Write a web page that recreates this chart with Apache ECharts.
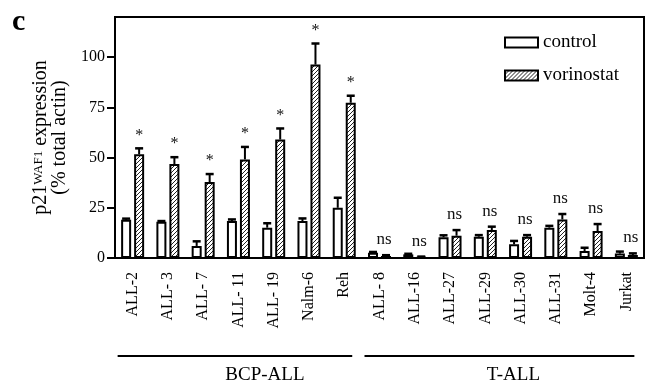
<!DOCTYPE html>
<html>
<head>
<meta charset="utf-8">
<script src="https://cdn.jsdelivr.net/npm/echarts@6/dist/echarts.min.js"></script>
<style>
html,body{margin:0;padding:0;background:#fff;}
#chart{width:649px;height:386px;}
</style>
</head>
<body>
<div id="chart"></div>
<script>
var categories = ['ALL-2','ALL- 3','ALL- 7','ALL- 11','ALL- 19','Nalm-6','Reh','ALL- 8','ALL-16','ALL-27','ALL-29','ALL-30','ALL-31','Molt-4','Jurkat'];
var controlValues = [19, 18, 6, 18.4, 15.1, 18.4, 25, 2.6, 1.8, 10.3, 10.6, 6.8, 15.1, 3.5, 2.2];
var controlErrors = [0.6, 0.4, 2.3, 0.8, 2.2, 1.3, 5, 0.4, 0.3, 1, 0.8, 1.7, 0.9, 1.6, 1];
var vorinostatValues = [51.7, 46.8, 37.8, 49.1, 59, 96.3, 77.3, 1, 0.5, 11.1, 13.9, 10.6, 19.2, 13.4, 1.5];
var vorinostatErrors = [2.9, 3.4, 4, 6.2, 5.5, 10.5, 3.5, 0.4, 0.2, 2.8, 1.7, 0.8, 2.7, 3.5, 0.8];
var significance = ['*','*','*','*','*','*','*','ns','ns','ns','ns','ns','ns','ns','ns'];
var yTicks = [0, 25, 50, 75, 100];
var groups = [
  {name: 'BCP-ALL', from: 0, to: 6},
  {name: 'T-ALL', from: 7, to: 14}
];

var FONT = '"Liberation Serif", "Times New Roman", serif';

function makeHatch() {
  var c = document.createElement('canvas');
  c.width = 4; c.height = 4;
  var ctx = c.getContext('2d');
  ctx.fillStyle = '#fff';
  ctx.fillRect(0, 0, 4, 4);
  ctx.strokeStyle = '#222';
  ctx.lineWidth = 1;
  ctx.beginPath();
  ctx.moveTo(0, 4); ctx.lineTo(4, 0);
  ctx.moveTo(-1, 1); ctx.lineTo(1, -1);
  ctx.moveTo(3, 5); ctx.lineTo(5, 3);
  ctx.stroke();
  return c;
}
var hatch = makeHatch();

var BAR_W = 10, OFFSET = 6.5;

function errorSeries(name, vals, errs, off, withSig) {
  var data = vals.map(function (v, i) { return [i, v, errs[i]]; });
  return {
    type: 'custom',
    name: name + '-err',
    data: data,
    z: 5,
    silent: true,
    renderItem: function (params, api) {
      var i = api.value(0), v = api.value(1), e = api.value(2);
      var base = api.coord([i, v]);
      var top = api.coord([i, v + e]);
      var x = base[0] + off;
      var children = [
        {type: 'line', shape: {x1: x, y1: base[1], x2: x, y2: top[1]}, style: {stroke: '#000', lineWidth: 2}},
        {type: 'line', shape: {x1: x - 4, y1: top[1], x2: x + 4, y2: top[1]}, style: {stroke: '#000', lineWidth: 2.5}}
      ];
      if (withSig) {
        var s = significance[i];
        children.push({
          type: 'text',
          style: {
            text: s, x: x + (s === 'ns' ? -2 : 0), y: top[1] - (s === 'ns' ? 7 : 5),
            fill: '#111', font: (s === 'ns' ? '17px ' : '16px ') + FONT,
            align: 'center', verticalAlign: 'bottom'
          }
        });
      }
      return {type: 'group', children: children};
    }
  };
}

var chart = echarts.init(document.getElementById('chart'), null, {renderer: 'canvas'});
var option = {
  animation: false,
  backgroundColor: '#fff',
  textStyle: {fontFamily: FONT, color: '#000'},
  grid: {left: 115, right: 5, top: 17, bottom: 128, show: true, borderColor: '#000', borderWidth: 2, containLabel: false},
  legend: {
    orient: 'vertical', left: 504, top: 33, padding: 0, itemWidth: 33, itemHeight: 10, itemGap: 14,
    icon: 'rect',
    textStyle: {fontFamily: FONT, fontSize: 19, color: '#000'},
    data: ['control', 'vorinostat']
  },
  xAxis: {
    type: 'category',
    data: categories,
    axisLine: {lineStyle: {color: '#000', width: 2}},
    axisTick: {alignWithLabel: true, length: 7, lineStyle: {color: '#000', width: 2}},
    axisLabel: {rotate: 90, interval: 0, margin: 14, fontFamily: FONT, fontSize: 16, color: '#000'}
  },
  yAxis: {
    type: 'value', min: 0, max: 120, interval: 25,
    splitLine: {show: false},
    axisLine: {show: true, lineStyle: {color: '#000', width: 2}},
    axisTick: {show: true, length: 8, customValues: yTicks, lineStyle: {color: '#000', width: 2}},
    axisLabel: {customValues: yTicks, margin: 10, fontFamily: FONT, fontSize: 16, color: '#000'},
    name: '{b|p21}{s|WAF1}{b| expression}\n{b|(% total actin)}',
    nameLocation: 'middle', nameRotate: 90, nameGap: 42,
    nameTextStyle: {
      fontFamily: FONT, lineHeight: 19,
      rich: {
        b: {fontFamily: FONT, fontSize: 20, color: '#000', lineHeight: 19},
        s: {fontFamily: FONT, fontSize: 13, color: '#000', verticalAlign: 'top', lineHeight: 19}
      }
    }
  },
  series: [
    {
      name: 'control', type: 'bar', data: controlValues, barWidth: BAR_W, barGap: '30%',
      itemStyle: {color: '#fff', borderColor: '#000', borderWidth: 2}, z: 3
    },
    {
      name: 'vorinostat', type: 'bar', data: vorinostatValues, barWidth: BAR_W,
      itemStyle: {color: {image: hatch, repeat: 'repeat'}, borderColor: '#000', borderWidth: 2}, z: 3
    },
    errorSeries('control', controlValues, controlErrors, -OFFSET, false),
    errorSeries('vorinostat', vorinostatValues, vorinostatErrors, OFFSET, true)
  ]
};
chart.setOption(option);

// group brackets under the x axis, positioned from the category scale
var graphics = [{
  type: 'text', left: 12, top: 7,
  style: {text: 'c', font: 'bold 30px ' + FONT, fill: '#000'}
}];
var lineY = 356;
groups.forEach(function (g) {
  var x1 = chart.convertToPixel({xAxisIndex: 0}, g.from) - 15;
  var x2 = chart.convertToPixel({xAxisIndex: 0}, g.to) + 8;
  graphics.push({type: 'line', shape: {x1: x1, y1: lineY, x2: x2, y2: lineY}, style: {stroke: '#000', lineWidth: 2}});
  graphics.push({
    type: 'text', x: (x1 + x2) / 2 + (g.name === 'BCP-ALL' ? 30 : 14), y: 375,
    style: {text: g.name, font: '19px ' + FONT, fill: '#000', align: 'center', verticalAlign: 'middle'}
  });
});
chart.setOption({graphic: graphics});
</script>
</body>
</html>
